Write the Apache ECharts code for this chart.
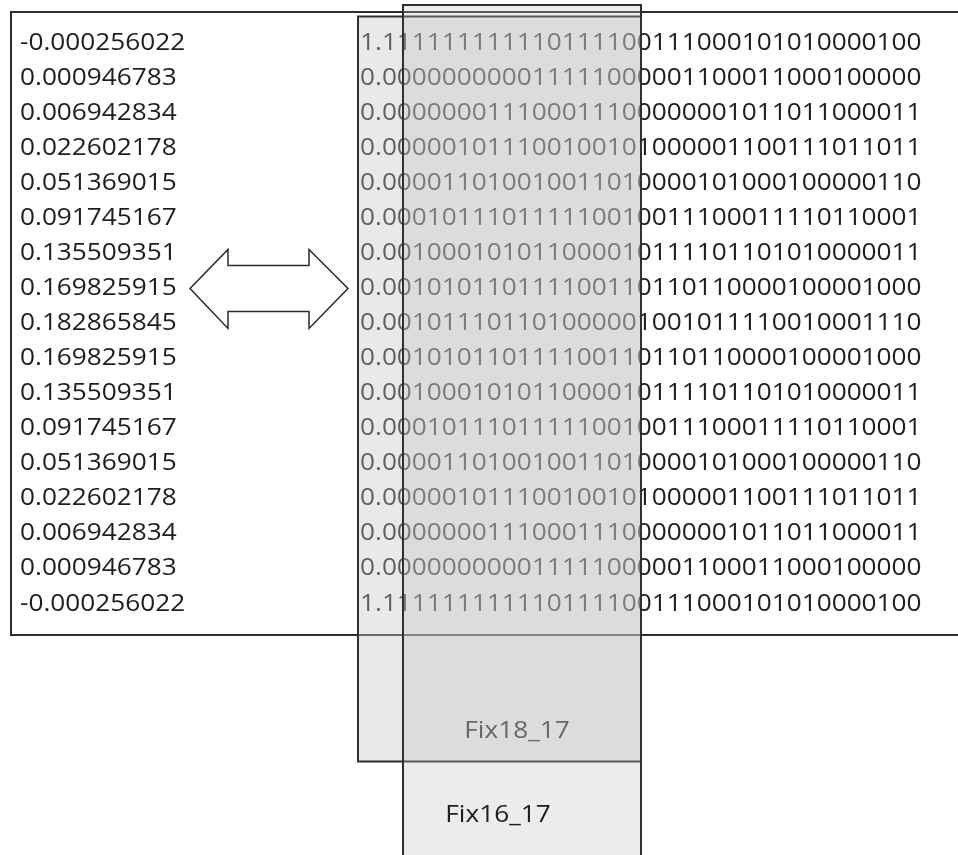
<!DOCTYPE html>
<html>
<head>
<meta charset="utf-8">
<script src="https://cdn.jsdelivr.net/npm/echarts@6/dist/echarts.min.js"></script>
<style>
html,body{margin:0;padding:0;background:#fff;}
#main{width:958px;height:855px;}
</style>
</head>
<body>
<div id="main"></div>
<script>
// ---- data ----
const decimals = [-0.000256022, 0.000946783, 0.006942834, 0.022602178, 0.051369015, 0.091745167, 0.135509351, 0.169825915, 0.182865845, 0.169825915, 0.135509351, 0.091745167, 0.051369015, 0.022602178, 0.006942834, 0.000946783, -0.000256022];
const fixedBits = ['1.11111111111011110', '0.00000000001111100', '0.00000001110001110', '0.00000101110010010', '0.00001101001001101', '0.00010111011111001', '0.00100010101100001', '0.00101011011110011', '0.00101110110100000', '0.00101011011110011', '0.00100010101100001', '0.00010111011111001', '0.00001101001001101', '0.00000101110010010', '0.00000001110001110', '0.00000000001111100', '1.11111111111011110'];
const droppedBits = ['0111000101010000100', '0001100011000100000', '0000001011011000011', '1000001100111011011', '0000101000100000110', '0011100011110110001', '0111101101010000011', '0110110000100001000', '1001011110010001110', '0110110000100001000', '0111101101010000011', '0011100011110110001', '0000101000100000110', '1000001100111011011', '0000001011011000011', '0001100011000100000', '0111000101010000100'];
const formatLabels = ['Fix18_17', 'Fix16_17'];
const arrowRow = 7;

const rows = decimals.map((_, i) => i);
const FONT = '23px "Open Sans"';
const SX = 1.14;
const INK = '#1e1e1e';

const chart = echarts.init(document.getElementById('main'), null, {renderer: 'canvas'});
const option = {
  backgroundColor: '#fff',
  animation: false,
  grid: {left: 0, right: 0, top: 25.5, bottom: 233.5},
  xAxis: {type: 'value', min: 0, max: 958, show: false},
  yAxis: {type: 'category', data: rows, inverse: true, show: false},
  series: [{
    type: 'custom',
    z: 5,
    data: rows.map(i => [0, i]),
    renderItem: function (params, api) {
      const i = api.value(1);
      const y = api.coord([0, i])[1];
      const children = [
        {type: 'text', x: api.coord([20, i])[0], y: y, scaleX: SX,
          style: {text: decimals[i].toFixed(9), font: FONT, fill: INK, verticalAlign: 'middle', align: 'left'}},
        {type: 'text', x: api.coord([360, i])[0], y: y, scaleX: SX,
          style: {text: fixedBits[i] + droppedBits[i], font: FONT, fill: INK, verticalAlign: 'middle', align: 'left'}}
      ];
      if (i === arrowRow) {
        const cy = y;
        children.push({
          type: 'polygon',
          shape: {points: [[190, cy], [228, cy - 39], [228, cy - 23], [309, cy - 23], [309, cy - 39], [348, cy], [309, cy + 40], [309, cy + 23], [228, cy + 23], [228, cy + 40]]},
          style: {fill: '#fff', stroke: '#2a2a2a', lineWidth: 1.5}
        });
      }
      return {type: 'group', children: children};
    }
  }],
  graphic: {
    elements: [
      {type: 'rect', z: 1, shape: {x: 11, y: 12, width: 960, height: 623},
        style: {fill: '#fff', stroke: '#2f2f2f', lineWidth: 2}},
      {type: 'rect', z: 10, shape: {x: 358, y: 16.5, width: 283, height: 745},
        style: {fill: 'rgba(198,198,201,0.39)', stroke: '#2f2f2f', lineWidth: 2}},
      {type: 'text', z: 11, x: 517, y: 731, scaleX: SX,
        style: {text: formatLabels[0], font: FONT, fill: '#444', align: 'center', verticalAlign: 'middle'}},
      {type: 'rect', z: 12, shape: {x: 403, y: 5, width: 238, height: 900},
        style: {fill: 'rgba(190,190,193,0.29)', stroke: '#2f2f2f', lineWidth: 2}},
      {type: 'text', z: 13, x: 498, y: 815, scaleX: SX,
        style: {text: formatLabels[1], font: FONT, fill: INK, align: 'center', verticalAlign: 'middle'}}
    ]
  }
};
chart.setOption(option);
</script>
</body>
</html>
